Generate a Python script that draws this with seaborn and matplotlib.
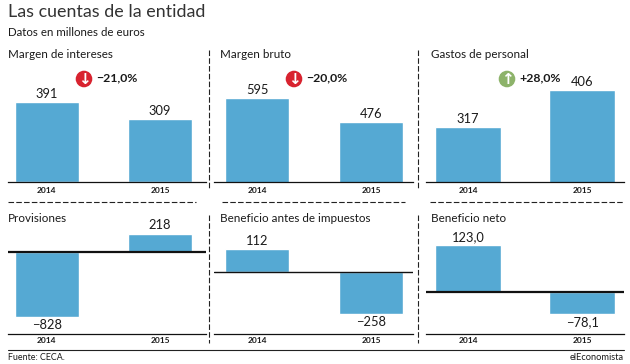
import numpy as np
import seaborn as sns
import matplotlib.pyplot as plt
from matplotlib.patches import Circle

years = ["2014", "2015"]

titles = ["Margen de intereses", "Margen bruto", "Gastos de personal",
          "Provisiones", "Beneficio antes de impuestos", "Beneficio neto"]

margen_intereses = [391, 309]
margen_bruto = [595, 476]
gastos_personal = [317, 406]
provisiones = [-828, 218]
beneficio_antes = [112, -258]
beneficio_neto = [123.0, -78.1]

labels_intereses = ["391", "309"]
labels_bruto = ["595", "476"]
labels_gastos = ["317", "406"]
labels_provisiones = ["\u2212828", "218"]
labels_antes = ["112", "\u2212258"]
labels_neto = ["123,0", "\u221278,1"]

changes = ["\u221221,0%", "\u221220,0%", "+28,0%"]

W, H = 630, 364
BLUE = "#55A9D3"
INK = "#1a1a1a"


def add_panel(fig, values, labels, x_px, centers, bar_w, top, bottom, ylim=None, zero=None, pos=None, neg=None, zero_lw=1.0, tick_pad=2.5):
    left, right = x_px
    ax = fig.add_axes([left / W, 1 - bottom / H, (right - left) / W, (bottom - top) / H])
    ax.patch.set_alpha(0)
    step = centers[1] - centers[0]
    sns.barplot(x=years, y=values, color=BLUE, saturation=1, width=bar_w / step, ax=ax)
    ax.set_xlim((left - centers[0]) / step, (right - centers[0]) / step)

    if zero is None:
        ax.set_ylim(*ylim)
    else:
        # the paper draws the two sides of zero at different scales
        def fwd(v):
            v = np.asarray(v, dtype=float)
            return np.where(v >= 0, v * pos, v * neg)

        def inv(p):
            p = np.asarray(p, dtype=float)
            return np.where(p >= 0, p / pos, p / neg)

        ax.set_yscale("function", functions=(fwd, inv))
        ax.set_ylim(float(inv(zero - bottom)), float(inv(zero - top)))
        ax.axhline(0, color="#111111", lw=zero_lw, zorder=5)

    ax.bar_label(ax.containers[0], labels=labels, padding=1.5, fontsize=9.3, color=INK)
    ax.set_yticks([])
    ax.set_ylabel("")
    ax.set_xlabel("")
    ax.minorticks_off()
    ax.tick_params(axis="x", length=0, pad=tick_pad)
    for t in ax.get_xticklabels():
        t.set_fontsize(6)
        t.set_fontweight("bold")
        t.set_color(INK)
    sns.despine(ax=ax, left=True)
    ax.spines["bottom"].set_linewidth(0.9)
    ax.spines["bottom"].set_color("#111111")
    return ax


def main():
    sns.set_style("white")
    plt.rcParams["font.family"] = ["Lato", "DejaVu Sans"]

    fig = plt.figure(figsize=(W / 100, H / 100), dpi=100)

    add_panel(fig, margen_intereses, labels_intereses, (8, 206), (46.8, 160), 64.5, 60, 182, ylim=(0, 597), tick_pad=3.8)
    add_panel(fig, margen_bruto, labels_bruto, (214, 413), (257.2, 371), 64, 60, 182, ylim=(178, 783), tick_pad=3.8)
    add_panel(fig, gastos_personal, labels_gastos, (426, 624), (468.2, 582), 65.5, 60, 182, ylim=(185, 478), tick_pad=3.8)

    add_panel(fig, provisiones, labels_provisiones, (8, 206), (46.8, 160), 64.5, 222, 334,
              zero=252, pos=18.5 / 218, neg=65 / 828, zero_lw=1.6)
    add_panel(fig, beneficio_antes, labels_antes, (214, 413), (257.2, 371), 64, 222, 334,
              zero=272, pos=23 / 112, neg=42 / 258, zero_lw=1.0)
    add_panel(fig, beneficio_neto, labels_neto, (426, 624), (468.2, 582), 65.5, 222, 334,
              zero=291.5, pos=46.5 / 123, neg=22.5 / 78.1, zero_lw=1.6)

    # overlay in pixel coordinates for separators, badges and text
    ov = fig.add_axes([0, 0, 1, 1], zorder=10)
    ov.set_xlim(0, W)
    ov.set_ylim(H, 0)
    ov.axis("off")
    ov.patch.set_alpha(0)

    dash = dict(color="#222222", lw=0.8, ls=(0, (5, 2)))
    for x in (208.5, 417.5):
        ov.plot([x, x], [50, 190], **dash)
        ov.plot([x, x], [215, 343], **dash)
    for x0, x1 in ((8, 196), (222, 405), (430, 624)):
        ov.plot([x0, x1], [202, 202], **dash)
    ov.plot([8, 624], [349.5, 349.5], color="#222222", lw=0.8)

    ov.text(8, 12, "Las cuentas de la entidad", fontsize=12.9, color="#333333", va="center")
    ov.text(8, 33, "Datos en millones de euros", fontsize=8.3, color=INK, va="center")
    ov.text(8, 357, "Fuente: CECA.", fontsize=6.4, color=INK, va="center")
    ov.text(624, 357, "elEconomista", fontsize=6.7, color=INK, va="center", ha="right")

    title_pos = [(8, 55), (220, 55), (431, 55), (8, 218), (220, 218), (431, 218)]
    for (x, y), t in zip(title_pos, titles):
        ov.text(x, y, t, fontsize=8.4, color=INK, va="center")

    badges = [(84, 79, "#D8232F", "\u2193"), (294, 79, "#D8232F", "\u2193"), (507, 79, "#8DB36A", "\u2191")]
    for (x, y, col, arrow), ch in zip(badges, changes):
        ov.add_patch(Circle((x, y), 8.3, color=col, lw=0))
        ov.text(x, y, arrow, family="DejaVu Sans", fontsize=11, fontweight="bold", color="white", ha="center", va="center")
        ov.text(x + 12, y - 1, ch, fontsize=8.8, fontweight="bold", color=INK, va="center")

    fig.savefig("out.png", dpi=100)


if __name__ == "__main__":
    main()
